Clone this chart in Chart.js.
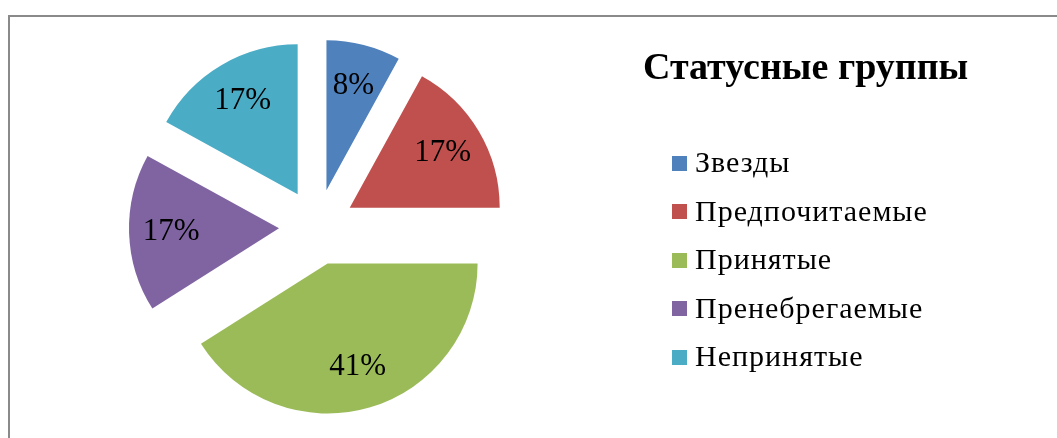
<!DOCTYPE html>
<html>
<head>
<meta charset="utf-8">
<title>Статусные группы</title>
<script src="https://cdn.jsdelivr.net/npm/chart.js@4.4.0/dist/chart.umd.min.js"></script>
<style>
  html, body { margin: 0; padding: 0; background: #fff; overflow: hidden; }
  body { width: 1057px; height: 438px; position: relative; font-family: 'Liberation Serif', 'Times New Roman', serif; }
  #frame { position: absolute; left: 8px; top: 15px; width: 1200px; height: 600px;
           border-left: 2px solid #8a8a8a; border-top: 2px solid #8a8a8a; }
  #chart { position: absolute; left: 0; top: 0; }
  #title { position: absolute; left: 643px; top: 47px; margin: 0;
           font-size: 38px; line-height: 38px; font-weight: bold; color: #000; white-space: nowrap; }
  #legend { position: absolute; left: 672px; top: 147px; margin: 0; padding: 0; list-style: none; }
  #legend li { position: relative; height: 48.6px; line-height: 30px; font-size: 30px;
               letter-spacing: 1px; color: #000; white-space: nowrap; padding-left: 23px; }
  #legend li span { position: absolute; left: 0; top: 8.5px; width: 15px; height: 15px; }
</style>
</head>
<body>
<div id="frame"></div>
<canvas id="chart" width="1057" height="438"></canvas>
<div id="title"></div>
<ul id="legend"></ul>
<script>
// data
const chartTitle = "Статусные группы";
const categories = ["Звезды", "Предпочитаемые", "Принятые", "Пренебрегаемые", "Непринятые"];
const shares = [8, 17, 41, 17, 17];
const sliceColors = ["#4F81BD", "#C0504D", "#9BBB59", "#8064A2", "#4BACC6"];

const FONT = "'Liberation Serif', 'Times New Roman', serif";
const EXPLODE = 38;     // px each slice is pulled out
const LABEL_POS = 0.72; // label distance, share of radius

// pull every slice out from the centre (exploded pie)
const explodePlugin = {
  id: "explode",
  afterDatasetUpdate(chart, args) {
    args.meta.data.forEach(arc => {
      const mid = (arc.startAngle + arc.endAngle) / 2;
      arc.x += Math.cos(mid) * EXPLODE;
      arc.y += Math.sin(mid) * EXPLODE;
    });
  }
};

// percent labels inside the slices
const percentLabels = {
  id: "percentLabels",
  afterDatasetsDraw(chart) {
    const ctx = chart.ctx;
    const meta = chart.getDatasetMeta(0);
    const total = shares.reduce((a, b) => a + b, 0);
    ctx.save();
    ctx.font = "31px " + FONT;
    ctx.fillStyle = "#000";
    ctx.textAlign = "center";
    ctx.textBaseline = "middle";
    meta.data.forEach((arc, i) => {
      const mid = (arc.startAngle + arc.endAngle) / 2;
      const d = arc.outerRadius * LABEL_POS;
      const txt = Math.round(shares[i] / total * 100) + "%";
      ctx.fillText(txt, arc.x + Math.cos(mid) * d, arc.y + Math.sin(mid) * d);
    });
    ctx.restore();
  }
};

// title + legend as html, built from the chart's own legend items
const htmlLegend = {
  id: "htmlLegend",
  afterUpdate(chart) {
    document.getElementById("title").textContent = chartTitle;
    const ul = document.getElementById("legend");
    ul.innerHTML = "";
    const items = chart.options.plugins.legend.labels.generateLabels(chart);
    items.forEach(item => {
      const li = document.createElement("li");
      const box = document.createElement("span");
      box.style.background = item.fillStyle;
      li.appendChild(box);
      li.appendChild(document.createTextNode(item.text));
      ul.appendChild(li);
    });
  }
};

new Chart(document.getElementById("chart"), {
  type: "pie",
  data: {
    labels: categories,
    datasets: [{
      data: shares,
      backgroundColor: sliceColors,
      borderWidth: 0
    }]
  },
  options: {
    responsive: false,
    animation: false,
    events: [],
    radius: 150,
    layout: { padding: { left: 0, right: 423, top: 20, bottom: 4 } },
    plugins: {
      tooltip: { enabled: false },
      legend: { display: false }
    }
  },
  plugins: [explodePlugin, percentLabels, htmlLegend]
});
</script>
</body>
</html>
